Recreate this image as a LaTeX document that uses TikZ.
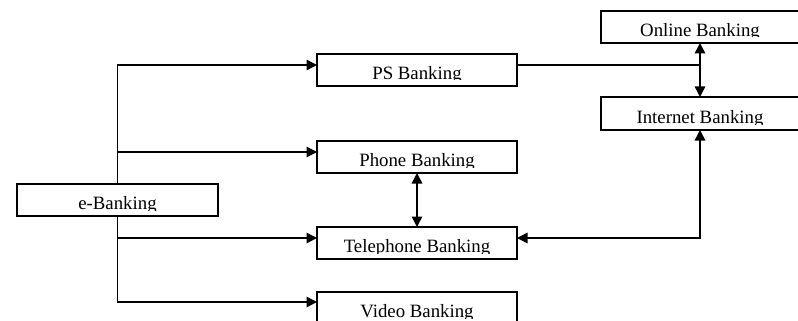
\documentclass[tikz,border=0pt]{standalone}
\usepackage{fontspec}
\setmainfont{Liberation Serif}
\usetikzlibrary{arrows.meta}
\newcommand\boxlabel[3]{%
  \begin{scope}
    \clip ([yshift=6pt]#1.south west) rectangle (#1.north east);
    \node[lbl] (#2) at ([yshift=6.5pt]#1.south) {#3};
  \end{scope}}
\begin{document}
\begin{tikzpicture}[x=1pt,y=-1pt,
  box/.style={draw, line width=1.5pt, minimum width=200pt, minimum height=32pt,
    inner sep=0pt, outer sep=0pt, anchor=north west},
  lbl/.style={anchor=base, inner sep=0pt, font=\fontsize{18.8}{18.8}\selectfont},
  conn/.style={line width=1.5pt},
  arr/.style={conn, -{Triangle[length=10.5pt,width=10.5pt]}},
  darr/.style={conn, {Triangle[length=10.5pt,width=10.5pt]}-{Triangle[length=10.5pt,width=10.5pt]}}]
\useasboundingbox (0,0) rectangle (798,321);

\node[box, minimum width=201pt] (eb) at (17,184) {};
\node[box] (ps) at (317,54) {};
\node[box] (ph) at (317,141) {};
\node[box] (tel) at (317,227) {};
\node[box] (vid) at (317,292) {};
\node[box, minimum width=198pt] (on) at (601,11) {};
\node[box, minimum width=198pt, minimum height=33pt] (in) at (601,97) {};

\boxlabel{eb}{ebt}{e-Banking}
\boxlabel{ps}{pst}{PS Banking}
\boxlabel{ph}{pht}{Phone Banking}
\boxlabel{tel}{telt}{Telephone Banking}
\boxlabel{vid}{vidt}{Video Banking}
\boxlabel{on}{ont}{Online Banking}
\boxlabel{in}{int}{Internet Banking}

\coordinate (psin) at ([yshift=-11pt]ps.north west);
\coordinate (phin) at ([yshift=-11pt]ph.north west);
\coordinate (telin) at ([yshift=-11pt]tel.north west);
\coordinate (vidin) at ([yshift=-10pt]vid.north west);
\coordinate (psout) at ([yshift=-11pt]ps.north east);
\coordinate (telout) at ([yshift=-11pt]tel.north east);

\draw[arr] (eb.north) |- (psin);
\draw[arr] (eb.north) |- (phin);
\draw[arr] (eb.south) |- (telin);
\draw[arr] (eb.south) |- (vidin);

\draw[conn] (psout) -- (psout -| on.south);
\draw[darr] (on.south) -- (in.north);
\draw[darr] (in.south) |- (telout);
\draw[darr] (ph.south) -- (tel.north);
\end{tikzpicture}
\end{document}
